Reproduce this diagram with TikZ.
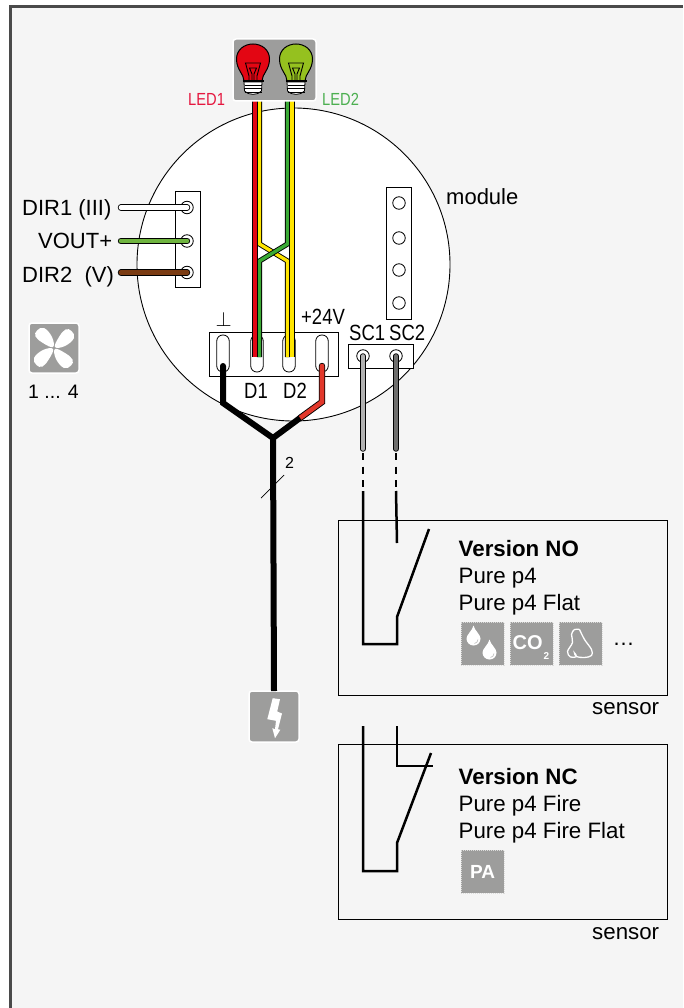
\documentclass[tikz,border=0pt]{standalone}
\usepackage{fontspec}
\usepackage{xcolor}
\setmainfont{Liberation Sans}
\newfontfamily\narrowfont[FakeStretch=0.84]{Liberation Sans}
\usetikzlibrary{positioning}
\definecolor{paper}{HTML}{F5F5F5}
\definecolor{framegray}{HTML}{4A4A4A}
\definecolor{icongray}{HTML}{9D9D9C}
\definecolor{ledred}{HTML}{E30613}
\definecolor{ledgreen}{HTML}{95C11F}
\definecolor{wirered}{HTML}{E30613}
\definecolor{wireyellow}{HTML}{FFE500}
\definecolor{wiregreen}{HTML}{3AAA35}
\definecolor{voutgreen}{HTML}{6FB43F}
\definecolor{dirbrown}{HTML}{7A3B12}
\definecolor{supplyred}{HTML}{E2382B}
\definecolor{lightwire}{HTML}{B2B2B2}
\definecolor{darkwire}{HTML}{6F6F6E}
\definecolor{labelred}{HTML}{E5173F}
\definecolor{labelgreen}{HTML}{4CAF50}
\tikzset{
  pics/bulb/.style={code={
    \draw[fill=#1, line width=1pt] (-9,37) .. controls (-9,30) and (-16.5,26) .. (-16.5,15) .. controls (-16.5,6) and (-9,0) .. (0,0) .. controls (9,0) and (16.5,6) .. (16.5,15) .. controls (16.5,26) and (9,30) .. (9,37) -- cycle;
    \draw[line width=0.9pt] (-4,37) -- (-4,32) -- (-7.5,19) -- (7.5,19) -- (4,32) -- (4,37);
    \draw[line width=0.9pt] (-1,37) -- (-1,30) -- (-3.5,24) -- (3.5,24) -- (1,30) -- (1,37);
    \draw[fill=white, line width=0.8pt] (-9,38) -- (9,38) -- (8.5,47) .. controls (5,51.5) and (-5,51.5) .. (-8.5,47) -- cycle;
    \draw[line width=1.8pt] (-10.5,37) -- (10.5,37);
    \foreach \ypos in {41,44.5,48} {\draw[line width=0.9pt] (-8.5,\ypos) -- (8.5,\ypos);}
  }}
}
\begin{document}
\begin{tikzpicture}[x=1pt, y=-1pt,
  lab/.style={anchor=base west, inner sep=0pt, font=\fontsize{22}{26}\selectfont},
  boxlab/.style={anchor=base west, inner sep=0pt, font=\fontsize{22.3}{26}\selectfont},
  narrow/.style={anchor=base west, inner sep=0pt, font=\fontsize{22}{26}\selectfont\narrowfont},
  strip/.style={rectangle, draw, fill=white, line width=0.8pt, inner sep=0pt, outer sep=0pt},
  hole/.style={circle, draw, fill=white, line width=0.8pt, minimum size=12.5pt, inner sep=0pt},
  slot/.style={rectangle, draw, fill=white, rounded corners=6pt, line width=0.8pt, minimum width=12.5pt, minimum height=37pt, inner sep=0pt},
  tile/.style={rectangle, draw=white, fill=icongray, line width=1.5pt, rounded corners=3pt, inner sep=0pt, outer sep=0pt},
  icon/.style={rectangle, draw=paper!70!icongray, densely dotted, fill=icongray, line width=1pt, minimum size=43pt, inner sep=0pt, outer sep=0pt},
  sensorbox/.style={rectangle, draw, line width=0.9pt, minimum width=329pt, minimum height=175pt, inner sep=0pt, outer sep=0pt},
  wire/.style={line width=0.9pt, double distance=3.4pt, line join=miter},
  endwire/.style={line width=0.9pt, double distance=4.6pt, line cap=round},
  contact/.style={line width=2.5pt, line join=miter},
  thickwire/.style={line width=6pt, line join=miter}]
\useasboundingbox (0,0) rectangle (683,1008);
\fill[white] (0,0) rectangle (683,1008);
\fill[paper] (10,6.5) rectangle (683,1008);
\draw[framegray, line width=3pt] (10,1008) -- (10,6.5) -- (683,6.5);

% module
\node[circle, draw, fill=white, line width=0.9pt, minimum size=313pt, inner sep=0pt] (module) at (293.5,264.5) {};
\node[lab] (modulelab) at (446,205) {module};
\node[strip, minimum width=25pt, minimum height=132pt] (rightstrip) at (399,253.5) {};
\foreach \yhole/\name in {203/A,238/B,270/C,303/D} {\node[hole] (right\name) at (399,\yhole) {};}

% fan side
\node[strip, minimum width=25pt, minimum height=96pt] (leftstrip) at (187.5,239) {};
\node[hole] (dirA) at (187,207.5) {};
\node[hole] (vout) at (187,241) {};
\node[hole] (dirB) at (187,272.5) {};
\coordinate (dirAend) at (121,207.5);
\coordinate (voutend) at (121,241);
\coordinate (dirBend) at (121,272.5);
\draw[endwire, double=white] (dirAend) -- (dirA.center);
\draw[endwire, double=voutgreen] (voutend) -- (vout.center);
\draw[endwire, double=dirbrown] (dirBend) -- (dirB.center);
\node[lab] (dirAlab) at (22,216) {DIR1 (III)};
\node[lab] (voutlab) at (38,248) {VOUT+};
\node[lab] (dirBlab) at (22,282) {DIR2 \ (V)};
\node[tile, minimum size=50pt] (fan) at (54,348) {};
\foreach \ang in {0,90,180,270} {
  \fill[white, shift={(fan.center)}, rotate=\ang] plot[smooth cycle, tension=0.7] coordinates {(-1,-1) (-2,-11) (-10,-20) (-17,-17.5) (-18.5,-11.5) (-11,-5)};
}
\node[lab, font=\fontsize{19.5}{24}\selectfont] (fanlab) at (28,398) {1 ... 4};

% terminal block
\node[strip, minimum width=129pt, minimum height=44pt] (block) at (273.5,354) {};
\node[slot] (slotA) at (223,353.5) {};
\node[slot] (slotB) at (257,353.5) {};
\node[slot] (slotC) at (289,353.5) {};
\node[slot] (slotD) at (322,353.5) {};
\node[narrow, font=\fontsize{22}{26}\selectfont] (gndlab) at (215.5,326) {$\bot$};
\node[narrow] (plus) at (301,324) {+24V};
\node[narrow] (donelab) at (244,398) {D1};
\node[narrow] (dtwolab) at (283,398) {D2};

% LED wires
\coordinate (redtop) at (255,101);
\coordinate (redend) at (255,357);
\coordinate (yeltop) at (259.5,101);
\coordinate (yelA) at (259.5,244);
\coordinate (yelB) at (287.5,261);
\coordinate (yelend) at (287.5,357);
\coordinate (grntop) at (287.5,101);
\coordinate (grnA) at (287.5,244);
\coordinate (grnB) at (259.5,261);
\coordinate (grnend) at (259.5,357);
\coordinate (outtop) at (292,101);
\coordinate (outend) at (292,357);
\draw[wire, double=wireyellow] (yeltop) -- (yelA) -- (yelB) -- (yelend);
\draw[wire, double=wiregreen] (grntop) -- (grnA) -- (grnB) -- (grnend);
\draw[wire, double=wirered] (redtop) -- (redend);
\draw[wire, double=wireyellow] (outtop) -- (outend);

% lamps
\node[tile, minimum width=83pt, minimum height=62pt] (lamps) at (274.5,70) {};
\pic (lampA) at (253,44) {bulb=ledred};
\pic (lampB) at (296,44) {bulb=ledgreen};
\node[narrow, labelred, font=\fontsize{17.5}{20}\selectfont\narrowfont] (ledAlab) at (188,106) {LED1};
\node[narrow, labelgreen, font=\fontsize{17.5}{20}\selectfont\narrowfont] (ledBlab) at (322,106) {LED2};

% supply
\coordinate (gndend) at (223,366);
\coordinate (gndbend) at (223,403);
\coordinate (plusend) at (322,366);
\coordinate (plusbend) at (322,402);
\coordinate (plusjoin) at (300,418);
\coordinate (fork) at (273,438);
\node[tile, minimum width=50pt, minimum height=51pt] (power) at (274,716.5) {};
\draw[endwire, double=supplyred, line cap=round, line join=miter] (plusend) -- (plusbend) -- (plusjoin);
\draw[thickwire, line cap=round] (gndend) -- (gndbend) -- (fork);
\draw[thickwire] (plusjoin) -- (fork) -- (power.north);
\fill[white, shift={(power.center)}] (-1.3,-18.3) -- (6,-17.3) -- (3.2,-5) -- (8,-3) -- (4,12.7) -- (6.3,13.3) -- (1,21.7) -- (-1.7,11.7) -- (1,12.7) -- (2,4.3) -- (-6.7,2.7) -- cycle;
\coordinate (tickA) at (261,498);
\coordinate (tickB) at (284,475);
\draw[line width=0.7pt] (tickA) -- (tickB);
\node[lab, font=\fontsize{16}{20}\selectfont] (twolab) at (285,468) {2};

% sensor terminals
\node[strip, minimum width=65pt, minimum height=24pt] (scblock) at (380.5,356) {};
\node[hole] (scA) at (363,356) {};
\node[hole] (scB) at (396,356) {};
\node[narrow] (scAlab) at (349,340) {SC1};
\node[narrow] (scBlab) at (389,340) {SC2};
\coordinate (scAend) at (363,449);
\coordinate (scBend) at (396,449);
\coordinate (scAgap) at (363,453);
\coordinate (scBgap) at (396,453);
\coordinate (scAcut) at (363,491);
\coordinate (scBcut) at (396,491);
\draw[endwire, double=lightwire, double distance=3.6pt] (scAend) -- (scA.center);
\draw[endwire, double=darkwire, double distance=3.6pt] (scBend) -- (scB.center);
\draw[contact, line width=2.8pt, dash pattern=on 7pt off 6.5pt] (scAgap) -- (scAcut);
\draw[contact, line width=2.8pt, dash pattern=on 7pt off 6.5pt] (scBgap) -- (scBcut);

% sensor NO
\node[sensorbox] (sensorNO) at (502.5,607.5) {};
\coordinate (noA) at (363,644);
\coordinate (noB) at (397,644);
\coordinate (noC) at (397,617);
\coordinate (noD) at (429,529);
\coordinate (noE) at (397,543);
\draw[contact] (scAcut) -- (noA) -- (noB) -- (noC) -- (noD);
\draw[contact] (scBcut) -- (noE);
\node[boxlab, font=\fontsize{22.3}{26}\selectfont\bfseries] (nohead) at (458.5,556) {Version NO};
\node[boxlab] (noline) at (458.5,583) {Pure p4};
\node[boxlab] (noflat) at (458.5,610) {Pure p4 Flat};
\node[icon] (drops) at (482.5,643.5) {};
\node[icon, right=6pt of drops] (cotwo) {};
\node[icon, right=6pt of cotwo] (nose) {};
\foreach \dx/\dy/\rad in {-9/-5/7,7/9/7} {
  \fill[white, shift={(drops.center)}, shift={(\dx,\dy)}] (-\rad,0) .. controls (-\rad,-4) and (-1,-8) .. (0,-13) .. controls (1,-8) and (\rad,-4) .. (\rad,0) .. controls (\rad,4) and (4,\rad) .. (0,\rad) .. controls (-4,\rad) and (-\rad,4) .. (-\rad,0) -- cycle;
  \draw[icongray!60, line width=0.7pt, shift={(drops.center)}, shift={(\dx,\dy)}] (4.5,1) .. controls (4.5,3) and (3,4.5) .. (1,5);
}
\node[anchor=base west, inner sep=0pt, white, font=\fontsize{20}{24}\selectfont\bfseries] (colab) at (512.5,649.5) {CO};
\node[anchor=base west, inner sep=0pt, white, font=\fontsize{10}{12}\selectfont\bfseries] (subtwo) at (543.5,659.5) {2};
\draw[white, line width=1.3pt, shift={(nose.center)}] plot[smooth, tension=0.6] coordinates {(-1,-14) (-6,-14) (-9,-9) (-8,-1) (-13,8) (-10,13.5) (-4,13) (-6,9.5) (-4,13) (4,14) (11,12) (11,6) (4,-4) (-1,-14)};
\node[lab] (dots) at (612.5,645) {\textellipsis};
\node[boxlab] (sensorAlab) at (592,714) {sensor};

% sensor NC
\node[sensorbox] (sensorNC) at (502.5,831.5) {};
\coordinate (ncA) at (363,726);
\coordinate (ncB) at (363,871);
\coordinate (ncC) at (397,871);
\coordinate (ncD) at (397,843);
\coordinate (ncE) at (431,753);
\coordinate (ncF) at (397,726);
\coordinate (ncG) at (397,766);
\coordinate (ncH) at (433,766);
\draw[contact] (ncA) -- (ncB) -- (ncC) -- (ncD) -- (ncE);
\draw[contact] (ncF) -- (ncG) -- (ncH);
\node[boxlab, font=\fontsize{22.3}{26}\selectfont\bfseries] (nchead) at (458.5,784) {Version NC};
\node[boxlab] (ncline) at (458.5,811) {Pure p4 Fire};
\node[boxlab] (ncflat) at (458.5,838) {Pure p4 Fire Flat};
\node[icon, text=white, font=\fontsize{19}{22}\selectfont\bfseries] (palarm) at (482.5,871.5) {PA};
\node[boxlab] (sensorBlab) at (592,939) {sensor};
\end{tikzpicture}
\end{document}
